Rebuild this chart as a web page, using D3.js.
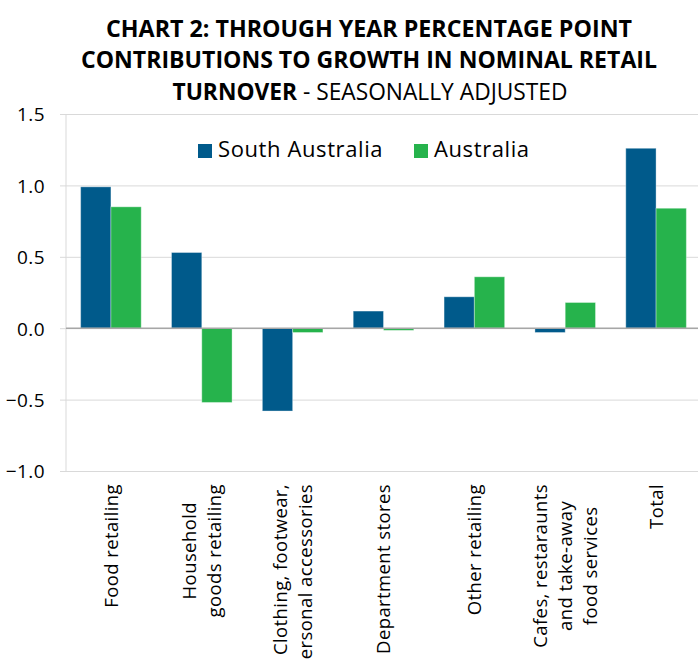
<!DOCTYPE html>
<html lang="en">
  <head>
    <meta charset="UTF-8" />
    <title>Chart 2: Through year percentage point contributions</title>
    <style>
      body { margin: 0; background: #fff; }
      svg { display: block; font-family: 'Open Sans', sans-serif; }
      .grid line { stroke: #d9d9d9; }
    </style>
  </head>
  <body>
    <svg width="698" height="660"></svg>
    <script src="https://d3js.org/d3.v7.min.js"></script>
    <script>
      const categories = [
        ['Food retailing'],
        ['Household', 'goods retailing'],
        ['Clothing, footwear,', 'personal accessories'],
        ['Department stores'],
        ['Other retailing'],
        ['Cafes, restaraunts', 'and take-away', 'food services'],
        ['Total']
      ];
      const seriesNames = ['South Australia', 'Australia'];
      const southAustralia = [0.99, 0.53, -0.58, 0.12, 0.22, -0.03, 1.26];
      const australia = [0.85, -0.52, -0.03, -0.015, 0.36, 0.18, 0.84];
      const yTicks = [-1.0, -0.5, 0.0, 0.5, 1.0, 1.5];
      const colors = ['#005a8b', '#26b34c'];

      const svg = d3.select('svg');

      const x = d3.scaleBand()
        .domain(d3.range(categories.length))
        .range([65.5, 701.5])
        .paddingInner(1 / 3)
        .paddingOuter(1 / 6);
      const xs = d3.scaleBand().domain([0, 1]).range([0, x.bandwidth()]);
      const y = d3.scaleLinear().domain([-1, 1.5]).range([471, 114]);

      // title
      const title = svg.append('g')
        .attr('font-size', 23)
        .attr('text-anchor', 'middle')
        .attr('fill', '#000');
      const titleLines = [
        { text: 'CHART 2: THROUGH YEAR PERCENTAGE POINT', y: 37, w: 526 },
        { text: 'CONTRIBUTIONS TO GROWTH IN NOMINAL RETAIL', y: 68, w: 576 }
      ];
      titleLines.forEach((l) => {
        title.append('text')
          .attr('x', 369).attr('y', l.y)
          .attr('font-weight', 'bold')
          .attr('textLength', l.w)
          .attr('lengthAdjust', 'spacingAndGlyphs')
          .text(l.text);
      });
      const t3 = title.append('text')
        .attr('x', 370).attr('y', 100)
        .attr('textLength', 395)
        .attr('lengthAdjust', 'spacingAndGlyphs');
      t3.append('tspan').attr('font-weight', 'bold').text('TURNOVER');
      t3.append('tspan').text(' - SEASONALLY ADJUSTED');

      // gridlines + y axis
      const yAxis = svg.append('g')
        .attr('class', 'grid')
        .attr('transform', 'translate(66,0)')
        .call(d3.axisLeft(y)
          .tickValues(yTicks)
          .tickSize(-(698 - 66))
          .tickPadding(21)
          .tickSizeOuter(0)
          .tickFormat(d3.format('.1f')));
      yAxis.select('.domain').remove();
      yAxis.selectAll('.tick line').attr('x1', -6).attr('stroke', '#d9d9d9');
      yAxis.selectAll('.tick text')
        .attr('font-size', 19)
        .attr('letter-spacing', 0.4)
        .attr('font-family', "'Open Sans', sans-serif")
        .attr('fill', '#000')
        .attr('dy', '0.36em');

      svg.append('line')
        .attr('x1', 66).attr('x2', 66)
        .attr('y1', y(1.5)).attr('y2', y(-1))
        .attr('stroke', '#d9d9d9');

      // bars
      const data = [southAustralia, australia];
      const groups = svg.append('g')
        .selectAll('g')
        .data(categories.map((c, i) => i))
        .join('g')
        .attr('transform', (i) => `translate(${x(i)},0)`);
      groups.selectAll('rect')
        .data((i) => data.map((s, k) => ({ k, v: s[i] })))
        .join('rect')
        .attr('x', (d) => xs(d.k))
        .attr('width', xs.bandwidth())
        .attr('y', (d) => y(Math.max(0, d.v)))
        .attr('height', (d) => Math.abs(y(d.v) - y(0)))
        .attr('fill', (d) => colors[d.k])
        .attr('stroke', '#ffffff')
        .attr('stroke-opacity', 0.35)
        .attr('stroke-width', 1);

      // zero line
      svg.append('line')
        .attr('x1', 66).attr('x2', 698)
        .attr('y1', y(0)).attr('y2', y(0))
        .attr('stroke', '#a6a6a6')
        .attr('stroke-width', 1.5);

      // legend
      const legendX = [198, 414];
      const legend = svg.append('g');
      seriesNames.forEach((name, k) => {
        legend.append('rect')
          .attr('x', legendX[k]).attr('y', 144)
          .attr('width', 14).attr('height', 14)
          .attr('fill', colors[k]);
        legend.append('text')
          .attr('x', legendX[k] + 20).attr('y', 157)
          .attr('font-size', 22)
          .attr('letter-spacing', 0.6)
          .attr('fill', '#000')
          .text(name);
      });

      // x labels, rotated
      const fs = 18.5, lineH = 24.7, capH = 0.714 * fs, labelTop = 484;
      categories.forEach((lines, i) => {
        const cx = x(i) + x.bandwidth() / 2;
        const g = svg.append('g')
          .attr('font-size', fs)
          .attr('letter-spacing', 0.4)
          .attr('fill', '#000');
        const texts = lines.map((ln, j) => {
          const bx = cx + capH / 2 + (j - (lines.length - 1) / 2) * lineH;
          return g.append('text')
            .attr('transform', `translate(${bx},0) rotate(-90)`)
            .text(ln);
        });
        const maxLen = d3.max(texts, (t) => t.node().getComputedTextLength());
        const overflow = labelTop + maxLen > 660;
        texts.forEach((t) => {
          if (overflow) {
            t.attr('text-anchor', 'end').attr('x', -labelTop);
          } else {
            t.attr('text-anchor', 'middle').attr('x', -(labelTop + maxLen / 2));
          }
        });
      });
    </script>
  </body>
</html>
